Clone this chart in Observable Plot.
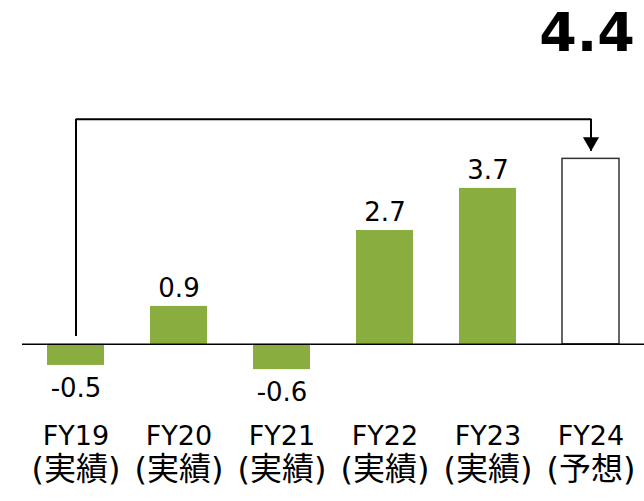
<!DOCTYPE html>
<html><head><meta charset="utf-8">
<script src="https://cdn.jsdelivr.net/npm/d3@7"></script>
<script src="https://cdn.jsdelivr.net/npm/@observablehq/plot@0.6"></script>
<style>
html,body{margin:0;padding:0;background:#fff;}
</style></head><body><div id="chart"></div>
<script>
// data
const years = ["FY19", "FY20", "FY21", "FY22", "FY23", "FY24"];
const kinds = ["(実績)", "(実績)", "(実績)", "(実績)", "(実績)", "(予想)"];
const values = [-0.5, 0.9, -0.6, 2.7, 3.7, 4.4];
const isForecast = [false, false, false, false, false, true];
// bracket arrow annotation (data units)
const arrowFrom = "FY19", arrowTo = "FY24";
const arrowStart = 0.2, arrowLevel = 5.34, arrowTip = 4.59;

const green = "#89ad3f";
const data = years.map((y, i) => ({year: y, kind: kinds[i], value: values[i], forecast: isForecast[i], label: values[i].toFixed(1)}));
const actual = data.filter(d => !d.forecast);
const forecast = data.filter(d => d.forecast);
const arrowPath = [
  {year: arrowFrom, v: arrowStart},
  {year: arrowFrom, v: arrowLevel},
  {year: arrowTo, v: arrowLevel},
  {year: arrowTo, v: arrowTip}
];
const arrowHead = [{year: arrowTo, v: arrowTip}];

const chart = Plot.plot({
  width: 644, height: 501,
  marginLeft: 22, marginRight: 0, marginTop: 112, marginBottom: 115,
  x: {domain: years, paddingInner: 0.45, paddingOuter: 0.225, axis: null},
  y: {domain: [-1, 5.5], axis: null},
  style: {fontFamily: "'DejaVu Sans', 'Noto Sans CJK JP', sans-serif", background: "#fff", overflow: "visible", color: "#000"},
  marks: [
    Plot.barY(actual, {x: "year", y: "value", fill: green}),
    Plot.barY(forecast, {x: "year", y: "value", fill: "white", stroke: "#333", strokeWidth: 1.5}),
    Plot.ruleY([0], {stroke: "#000", strokeWidth: 1.5}),
    Plot.line(arrowPath, {x: "year", y: "v", stroke: "#000", strokeWidth: 2, strokeLinejoin: "miter", strokeLinecap: "butt"}),
    Plot.dot(arrowHead, {x: "year", y: "v", symbol: "triangle", r: 6, rotate: 180, fill: "#000", dy: -9}),
    Plot.text(actual.filter(d => d.value >= 0), {x: "year", y: "value", text: "label", dy: -18, fontSize: 26}),
    Plot.text(actual.filter(d => d.value < 0), {x: "year", y: "value", text: "label", dy: 23, fontSize: 26}),
    Plot.text(forecast, {x: "year", y: "value", text: "label", dy: -125, dx: -4, fontSize: 54, fontWeight: "bold"}),
    Plot.text(data, {x: "year", text: "year", frameAnchor: "bottom", dy: 58, fontSize: 27}),
    Plot.text(data, {x: "year", text: "kind", frameAnchor: "bottom", dy: 93, fontSize: 32})
  ]
});
document.getElementById("chart").appendChild(chart);
</script>
</body></html>
